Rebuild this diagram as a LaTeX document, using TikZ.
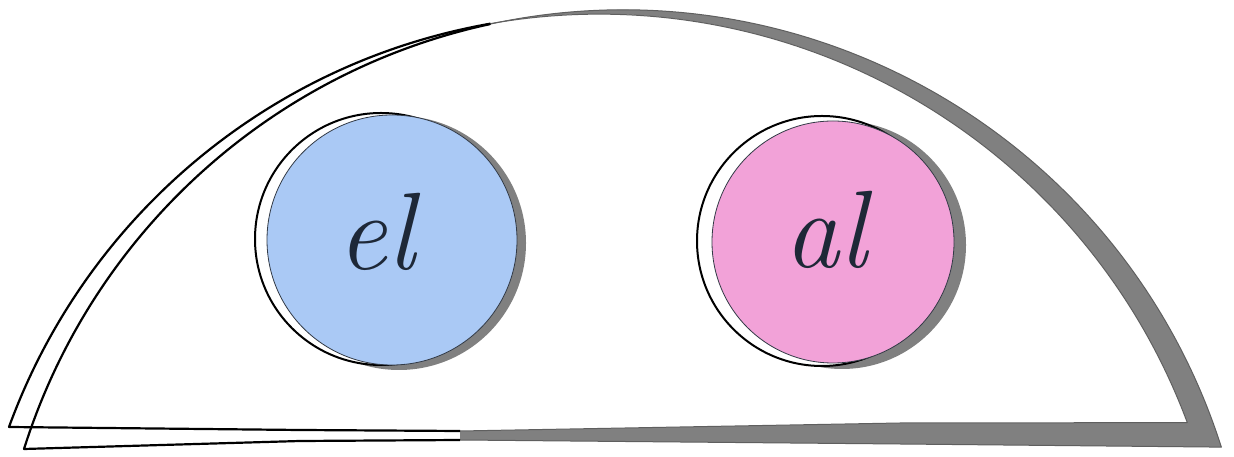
\documentclass[tikz,border=0pt]{standalone}
\definecolor{discblue}{RGB}{170,201,245}
\definecolor{discpink}{RGB}{242,162,216}
\definecolor{shadowgray}{RGB}{128,128,128}
\definecolor{shadowedge}{RGB}{95,95,95}
\definecolor{inkdark}{RGB}{30,40,55}
\tikzset{
  outline/.style={draw=black, line width=2.2pt, line join=round},
  edgeline/.style={draw=shadowedge, line width=1pt, line join=round},
  ringline/.style={fill=white, draw=black, line width=2pt},
  disc/.style={circle, draw=inkdark!80!shadowgray, line width=0.8pt, inner sep=0pt},
  word/.style={anchor=base, text=inkdark, inner sep=0pt, font=\fontsize{110}{110}\selectfont\itshape}
}
\begin{document}
\begin{tikzpicture}[x=1pt,y=1pt]
\useasboundingbox (0,0) rectangle (1234,457);
\fill[white] (0,0) rectangle (1234,457);
% shadow of the back sheet on the right
\begin{scope}
  \clip (460,0) rectangle (1234,457);
  \fill[shadowgray] (24,8) arc[start angle=162.49,end angle=17.69,radius=628.1]
     -- (900,13) -- (460,17) -- (300,16) -- cycle;
  \fill[white] (9,30) arc[start angle=159.96,end angle=20.47,radius=628]
     -- (900,34) -- (460,26) -- (300,27) -- cycle;
\end{scope}
% points where the outlines turn from black to grey
\path (24,8) arc[start angle=162.49,end angle=102.2,radius=628.1] coordinate (btop);
\path (9,30) arc[start angle=159.96,end angle=99.95,radius=628] coordinate (atop);
% grey edges of the shadow
\draw[edgeline] (btop) arc[start angle=102.2,end angle=17.69,radius=628.1]
   -- (900,13) -- (460,17);
\draw[edgeline] (atop) arc[start angle=99.95,end angle=20.47,radius=628]
   -- (900,34) -- (460,26);
% back sheet, left part
\draw[outline] (btop) arc[start angle=102.2,end angle=162.49,radius=628.1]
   -- (300,16) -- (460,17);
% front sheet, left part
\draw[outline] (atop) arc[start angle=99.95,end angle=159.96,radius=628]
   -- (300,27) -- (460,26);
% blue disc
\fill[shadowgray] (399,214) circle[radius=127];
\filldraw[ringline] (381,218) circle[radius=126];
\node[disc, fill=discblue, minimum size=250pt] (el) at (392,217) {};
\node[word] (eltext) at (376,187) {el};
% pink disc
\fill[shadowgray] (842,212) circle[radius=124];
\filldraw[ringline] (822,216) circle[radius=125];
\node[disc, fill=discpink, minimum size=242pt] (al) at (833,215) {};
\node[word] (altext) at (826,189) {al};
\end{tikzpicture}
\end{document}
